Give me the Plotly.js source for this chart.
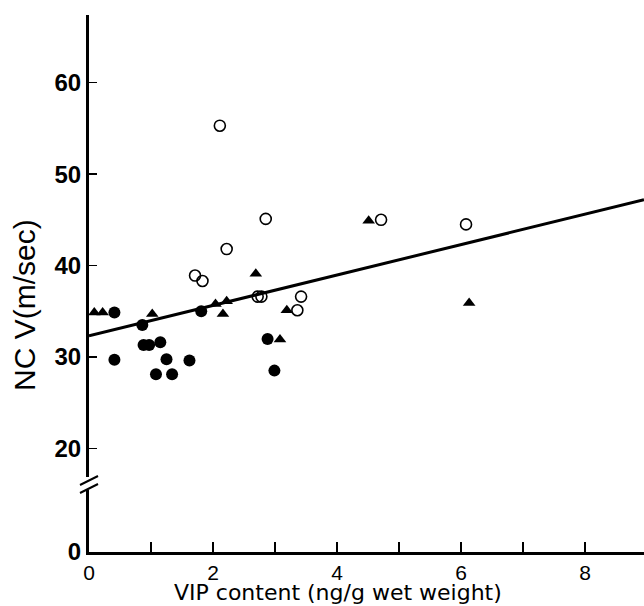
<!DOCTYPE html>
<html><head><meta charset="utf-8">
<script src="https://cdn.plot.ly/plotly-3.0.1.min.js"></script>
<style>html,body{margin:0;padding:0;background:#fff}</style>
</head><body>
<div id="chart" style="width:644px;height:606px"></div>
<script>
// open circles
const openX = [2.11, 2.85, 2.22, 1.71, 1.83, 2.72, 2.78, 3.36, 3.42, 4.71, 6.08];
const openY = [55.3, 45.1, 41.8, 38.9, 38.3, 36.6, 36.6, 35.1, 36.6, 45.0, 44.5];
// filled circles
const fillX = [0.41, 0.41, 0.86, 0.88, 0.97, 1.15, 1.25, 1.08, 1.34, 1.62, 1.81, 2.88, 2.99];
const fillY = [34.85, 29.7, 33.5, 31.3, 31.3, 31.6, 29.75, 28.1, 28.1, 29.6, 35.0, 31.95, 28.5];
// filled triangles
const triX = [0.085, 0.22, 1.02, 2.04, 2.22, 2.16, 2.69, 3.19, 3.08, 4.51, 6.13];
const triY = [34.85, 34.85, 34.7, 35.8, 36.1, 34.7, 39.1, 35.1, 31.9, 44.9, 35.9];
// regression line
const lineX = [0, 8.95];
const lineY = [32.3, 47.2];
// ticks
const xTickVals = [0,1,2,3,4,5,6,7,8];
const xTickText = ['0','','2','','4','','6','','8'];
const yTickVals = [20,30,40,50,60];
const yLowTickVals = [0];
const xTitle = 'VIP content (ng/g wet weight)';
const yTitle = 'NC V(m/sec)';

const traces = [
  {x: lineX, y: lineY, type:'scatter', mode:'lines', line:{color:'#000', width:3}, hoverinfo:'skip'},
  {x: fillX, y: fillY, type:'scatter', mode:'markers', marker:{symbol:'circle', size:12, color:'#000'}},
  {x: triX, y: triY, type:'scatter', mode:'markers', marker:{symbol:'triangle-up', size:11, color:'#000'}},
  {x: openX, y: openY, type:'scatter', mode:'markers', marker:{symbol:'circle-open', size:11, color:'#000', line:{width:1.6, color:'#000'}}},
  // empty trace so the lower (broken) axis segment is drawn
  {x: [], y: [], type:'scatter', mode:'markers', xaxis:'x', yaxis:'y2', hoverinfo:'skip'}
];

const L = 89, W = 644, H = 606, B = 54, T = 15;
const pw = W - L, ph = H - T - B;
function px(x){ return (x - L)/pw; }
function py(y){ return (H - B - y)/ph; }

const tickFontY = {family:'"Liberation Sans", Arial, sans-serif', size:24, color:'#000', weight:'bold'};
const layout = {
  width: W, height: H,
  margin: {l:L, r:0, t:T, b:B},
  paper_bgcolor:'#fff', plot_bgcolor:'#fff',
  showlegend:false,
  xaxis: {
    range:[0, 8.95], anchor:'y2',
    tickvals: xTickVals, ticktext: xTickText,
    ticks:'inside', ticklen:10, tickwidth:1.5, tickcolor:'#000',
    showline:true, linewidth:3, linecolor:'#000',
    showgrid:false, zeroline:false,
    tickfont:{family:'"Liberation Sans", Arial, sans-serif', size:21, color:'#000'}
  },
  yaxis: {
    domain:[py(477), 1],
    range:[16.86, 67.41],
    tickvals: yTickVals,
    ticks:'inside', ticklen:8, tickwidth:1.5, tickcolor:'#000',
    showline:true, linewidth:3, linecolor:'#000',
    showgrid:false, zeroline:false,
    tickfont: tickFontY
  },
  yaxis2: {
    domain:[0, py(490)],
    range:[0, 6.78],
    tickvals: yLowTickVals,
    ticks:'', showline:true, linewidth:3, linecolor:'#000',
    showgrid:false, zeroline:false,
    tickfont: tickFontY
  },
  annotations: [
    {text: yTitle, xref:'paper', yref:'paper', x: px(24), y: py(305), textangle:-90,
     showarrow:false, xanchor:'center', yanchor:'middle',
     font:{family:'"Liberation Sans", Arial, sans-serif', size:30, color:'#000'}},
    {text: xTitle, xref:'paper', yref:'paper', x: px(338), y: py(606),
     showarrow:false, xanchor:'center', yanchor:'bottom', borderpad:0,
     font:{family:'"DejaVu Sans", sans-serif', size:22, color:'#000'}}
  ],
  shapes: [
    {type:'line', xref:'paper', yref:'paper', x0:px(80), y0:py(485), x1:px(98), y1:py(476), line:{color:'#000', width:2}},
    {type:'line', xref:'paper', yref:'paper', x0:px(80), y0:py(493), x1:px(98), y1:py(484), line:{color:'#000', width:2}}
  ]
};
Plotly.newPlot('chart', traces, layout, {displayModeBar:false, staticPlot:true});
</script>
</body></html>
